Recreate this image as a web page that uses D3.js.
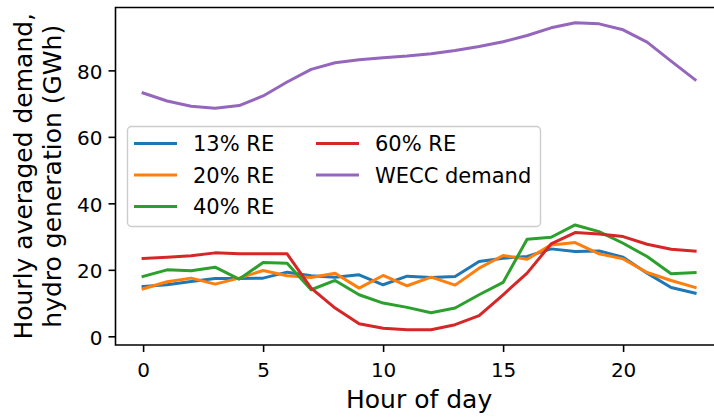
<!DOCTYPE html>
<html>
<head>
<meta charset="utf-8">
<script src="https://cdn.jsdelivr.net/npm/d3@7"></script>
<style>
  html, body { margin: 0; padding: 0; background: #fff; }
  svg { display: block; font-family: "DejaVu Sans", sans-serif; }
</style>
</head>
<body>
<svg id="chart" width="714" height="417"></svg>
<script>
// Hour of day
const hours = [0, 1, 2, 3, 4, 5, 6, 7, 8, 9, 10, 11, 12, 13, 14, 15, 16, 17, 18, 19, 20, 21, 22, 23];

// Hourly averaged hydro generation (GWh) per renewable share scenario
const re13 = [15.0, 15.5, 16.5, 17.4, 17.4, 17.5, 19.3, 18.2, 17.8, 18.5, 15.5, 18.1, 17.7, 18.0, 22.5, 23.5, 24.0, 26.3, 25.5, 25.7, 23.8, 19.0, 14.7, 13.0];
const re20 = [14.3, 16.4, 17.5, 15.7, 17.5, 19.8, 18.2, 17.7, 19.0, 14.5, 18.3, 15.2, 17.8, 15.4, 20.5, 24.3, 23.2, 27.5, 28.2, 24.8, 23.3, 19.2, 16.8, 14.7];
const re40 = [18.0, 20.0, 19.7, 20.8, 17.2, 22.2, 22.0, 14.0, 16.8, 12.5, 10.0, 8.7, 7.1, 8.5, 12.5, 16.2, 29.2, 29.8, 33.5, 31.5, 28.0, 24.0, 18.8, 19.2];
const re60 = [23.4, 23.8, 24.2, 25.1, 24.8, 24.8, 24.8, 14.5, 8.5, 3.8, 2.4, 2.0, 2.0, 3.5, 6.2, 12.5, 19.0, 27.8, 31.2, 30.8, 30.0, 27.7, 26.2, 25.6];

// Hourly averaged WECC demand (GWh)
const demand = [73.2, 70.8, 69.2, 68.6, 69.4, 72.3, 76.5, 80.3, 82.3, 83.2, 83.8, 84.3, 85.0, 86.0, 87.2, 88.6, 90.5, 92.8, 94.3, 94.0, 92.2, 88.5, 82.8, 77.2];

const seriesNames = ["13% RE", "20% RE", "40% RE", "60% RE", "WECC demand"];
const seriesValues = [re13, re20, re40, re60, demand];
const seriesColors = ["#1f77b4", "#ff7f0e", "#2ca02c", "#d62728", "#9467bd"];

const xTicks = [0, 5, 10, 15, 20];
const yTicks = [0, 20, 40, 60, 80];

const svg = d3.select("#chart");

// Plot area (right edge runs past the page)
const plotLeft = 115.5, plotTop = 7.5, plotBottom = 345, plotRight = 722.7;

// Axis limits with 5% padding on each side of the data range
const xMin = d3.min(hours), xMax = d3.max(hours);
const xPad = (xMax - xMin) * 0.05;
const allVals = seriesValues.flat();
const yLo = d3.min(allVals), yHi = d3.max(allVals);
const yPad = (yHi - yLo) * 0.05;

const x = d3.scaleLinear().domain([xMin - xPad, xMax + xPad]).range([plotLeft, plotRight]);
const y = d3.scaleLinear().domain([yLo - yPad, yHi + yPad]).range([plotBottom, plotTop]);

// Series lines
const line = d3.line().x((d, i) => x(hours[i])).y(d => y(d));
const plot = svg.append("g");
seriesValues.forEach((vals, k) => {
  plot.append("path")
    .datum(vals)
    .attr("d", line)
    .attr("fill", "none")
    .attr("stroke", seriesColors[k])
    .attr("stroke-width", 3)
    .attr("stroke-linejoin", "round")
    .attr("stroke-linecap", "square");
});

// Axes
const xAxis = d3.axisBottom(x).tickValues(xTicks).tickSize(7).tickPadding(7).tickFormat(d3.format("d"));
const yAxis = d3.axisLeft(y).tickValues(yTicks).tickSize(7).tickPadding(6).tickFormat(d3.format("d"));

const gx = svg.append("g").attr("transform", `translate(0,${plotBottom})`).call(xAxis);
const gy = svg.append("g").attr("transform", `translate(${plotLeft},0)`).call(yAxis);

[gx, gy].forEach(g => {
  g.select(".domain").remove();
  g.selectAll(".tick line").attr("stroke", "#000").attr("stroke-width", 1.6);
  g.selectAll(".tick text")
    .attr("fill", "#000")
    .style("font-family", "DejaVu Sans")
    .style("font-size", "20px");
});
gy.selectAll(".tick text").attr("dy", "0.4em");
gx.selectAll(".tick text").attr("dy", "0.92em");

// Spines: left, top, bottom
svg.append("path")
  .attr("d", `M${plotRight},${plotTop}H${plotLeft}V${plotBottom}H${plotRight}`)
  .attr("fill", "none")
  .attr("stroke", "#000")
  .attr("stroke-width", 1.6)
  .attr("stroke-linejoin", "miter");

// Axis labels
svg.append("text")
  .attr("x", (plotLeft + plotRight) / 2)
  .attr("y", 408)
  .attr("text-anchor", "middle")
  .style("font-size", "25px")
  .text("Hour of day");

const yLab = svg.append("text")
  .attr("transform", `translate(0,${(plotTop + plotBottom) / 2}) rotate(-90)`)
  .attr("text-anchor", "middle")
  .style("font-size", "25px");
yLab.append("tspan").attr("x", 0).attr("y", 31.7).text("Hourly averaged demand,");
yLab.append("tspan").attr("x", 0).attr("y", 60.7).text("hydro generation (GWh)");

// Legend
const legend = svg.append("g");
legend.append("rect")
  .attr("x", 127.5).attr("y", 126.5)
  .attr("width", 413).attr("height", 100)
  .attr("rx", 4).attr("ry", 4)
  .attr("fill", "#fff").attr("fill-opacity", 0.8)
  .attr("stroke", "#cccccc").attr("stroke-width", 1.4);

const colX = [135.5, 317.5];
const rowY = [143.5, 175, 206.5];
seriesNames.forEach((name, k) => {
  const col = k < 3 ? 0 : 1;
  const row = k < 3 ? k : k - 3;
  const lx = colX[col], ly = rowY[row];
  legend.append("line")
    .attr("x1", lx).attr("x2", lx + 40)
    .attr("y1", ly).attr("y2", ly)
    .attr("stroke", seriesColors[k])
    .attr("stroke-width", 3)
    .attr("stroke-linecap", "square");
  legend.append("text")
    .attr("x", lx + 57.5)
    .attr("y", ly + 7.5)
    .style("font-size", "21px")
    .attr("fill", "#000")
    .text(name);
});
</script>
</body>
</html>
